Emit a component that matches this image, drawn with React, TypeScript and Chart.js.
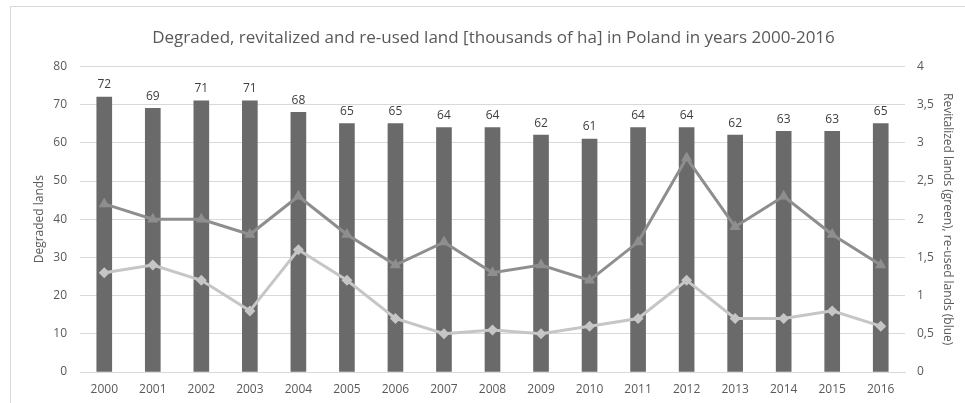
import React, { useEffect, useRef } from "react";
import { Chart, registerables } from "chart.js";

Chart.register(...registerables);

const years = ["2000","2001","2002","2003","2004","2005","2006","2007","2008","2009","2010","2011","2012","2013","2014","2015","2016"];
const degraded = [72,69,71,71,68,65,65,64,64,62,61,64,64,62,63,63,65];
const revitalized = [2.2,2.0,2.0,1.8,2.3,1.8,1.4,1.7,1.3,1.4,1.2,1.7,2.8,1.9,2.3,1.8,1.4];
const reused = [1.3,1.4,1.2,0.8,1.6,1.2,0.7,0.5,0.55,0.5,0.6,0.7,1.2,0.7,0.7,0.8,0.6];

const FONT = "'Open Sans', 'Liberation Sans', sans-serif";

const barLabels = {
  id: "barLabels",
  afterDatasetsDraw(chart: any) {
    const ctx = chart.ctx;
    chart.data.datasets.forEach((ds: any, i: number) => {
      if (ds.type !== "bar") return;
      const meta = chart.getDatasetMeta(i);
      ctx.save();
      ctx.fillStyle = "#404040";
      ctx.font = `12px ${FONT}`;
      ctx.textAlign = "center";
      ctx.textBaseline = "bottom";
      meta.data.forEach((el: any, j: number) => {
        ctx.fillText(String(ds.data[j]), el.x, el.y - 6);
      });
      ctx.restore();
    });
  },
};

export default function App() {
  const ref = useRef<HTMLCanvasElement>(null);
  useEffect(() => {
    const chart = new Chart(ref.current!, {
      type: "bar",
      data: {
        labels: years,
        datasets: [
          {
            type: "line",
            label: "Revitalized",
            data: revitalized,
            yAxisID: "y1",
            borderColor: "#8e8e8e",
            backgroundColor: "#8e8e8e",
            borderWidth: 3,
            pointStyle: "triangle",
            pointRadius: 6.5,
            pointBorderWidth: 0,
            order: 0,
          } as any,
          {
            type: "line",
            label: "Re-used",
            data: reused,
            yAxisID: "y1",
            borderColor: "#c6c6c6",
            backgroundColor: "#c6c6c6",
            borderWidth: 3,
            pointStyle: "rectRot",
            pointRadius: 5.5,
            pointBorderWidth: 0,
            order: 1,
          } as any,
          {
            type: "bar",
            label: "Degraded",
            data: degraded,
            yAxisID: "y",
            backgroundColor: "#6a6a6a",
            barThickness: 15,
            order: 2,
          } as any,
        ],
      },
      options: {
        animation: false,
        responsive: false,
        layout: { padding: { top: 0, bottom: 0, left: 32, right: 10 } },
        plugins: {
          legend: { display: false },
          tooltip: { enabled: false },
          title: {
            display: true,
            text: "Degraded, revitalized and re-used land [thousands of ha] in Poland in years 2000-2016",
            color: "#595959",
            font: { family: FONT, size: 17, weight: "normal" },
            padding: { top: 28, bottom: 18 },
          },
        },
        scales: {
          x: {
            grid: { display: false, drawTicks: false },
            border: { color: "#d9d9d9", width: 1 },
            ticks: { color: "#595959", font: { family: FONT, size: 12 }, maxRotation: 0, padding: 10 },
            afterFit: (s: any) => { s.height = 31; },
          },
          y: {
            position: "left",
            min: 0,
            max: 80,
            ticks: { stepSize: 10, color: "#595959", font: { family: FONT, size: 12 }, padding: 13 },
            grid: { color: "#d9d9d9", drawTicks: false },
            border: { display: false },
            title: { display: true, text: "Degraded lands", color: "#595959", font: { family: FONT, size: 12 }, padding: 0 },
            afterFit: (s: any) => { s.width = 48; },
          },
          y1: {
            position: "right",
            min: 0,
            max: 4,
            ticks: {
              stepSize: 0.5,
              color: "#595959",
              font: { family: FONT, size: 12 },
              padding: 12,
              callback: (v: any) => String(v).replace(".", ","),
            },
            grid: { display: false, drawTicks: false },
            border: { display: false },
            title: { display: true, text: "Revitalized lands (green), re-used lands (blue)", color: "#595959", font: { family: FONT, size: 12 }, padding: 0 },
            afterFit: (s: any) => { s.width = 50; },
          },
        },
      } as any,
      plugins: [barLabels],
    });
    return () => chart.destroy();
  }, []);
  return (
    <div style={{ position: "absolute", left: 0, top: 0, width: 965, height: 403, background: "#fff", overflow: "hidden" }}>
      <div style={{ position: "absolute", left: 10, top: 6, right: -2, bottom: -2, borderTop: "1px solid #d9d9d9", borderLeft: "1px solid #d9d9d9" }} />
      <canvas ref={ref} width={965} height={403} style={{ position: "absolute", left: 0, top: 0 }} />
    </div>
  );
}
